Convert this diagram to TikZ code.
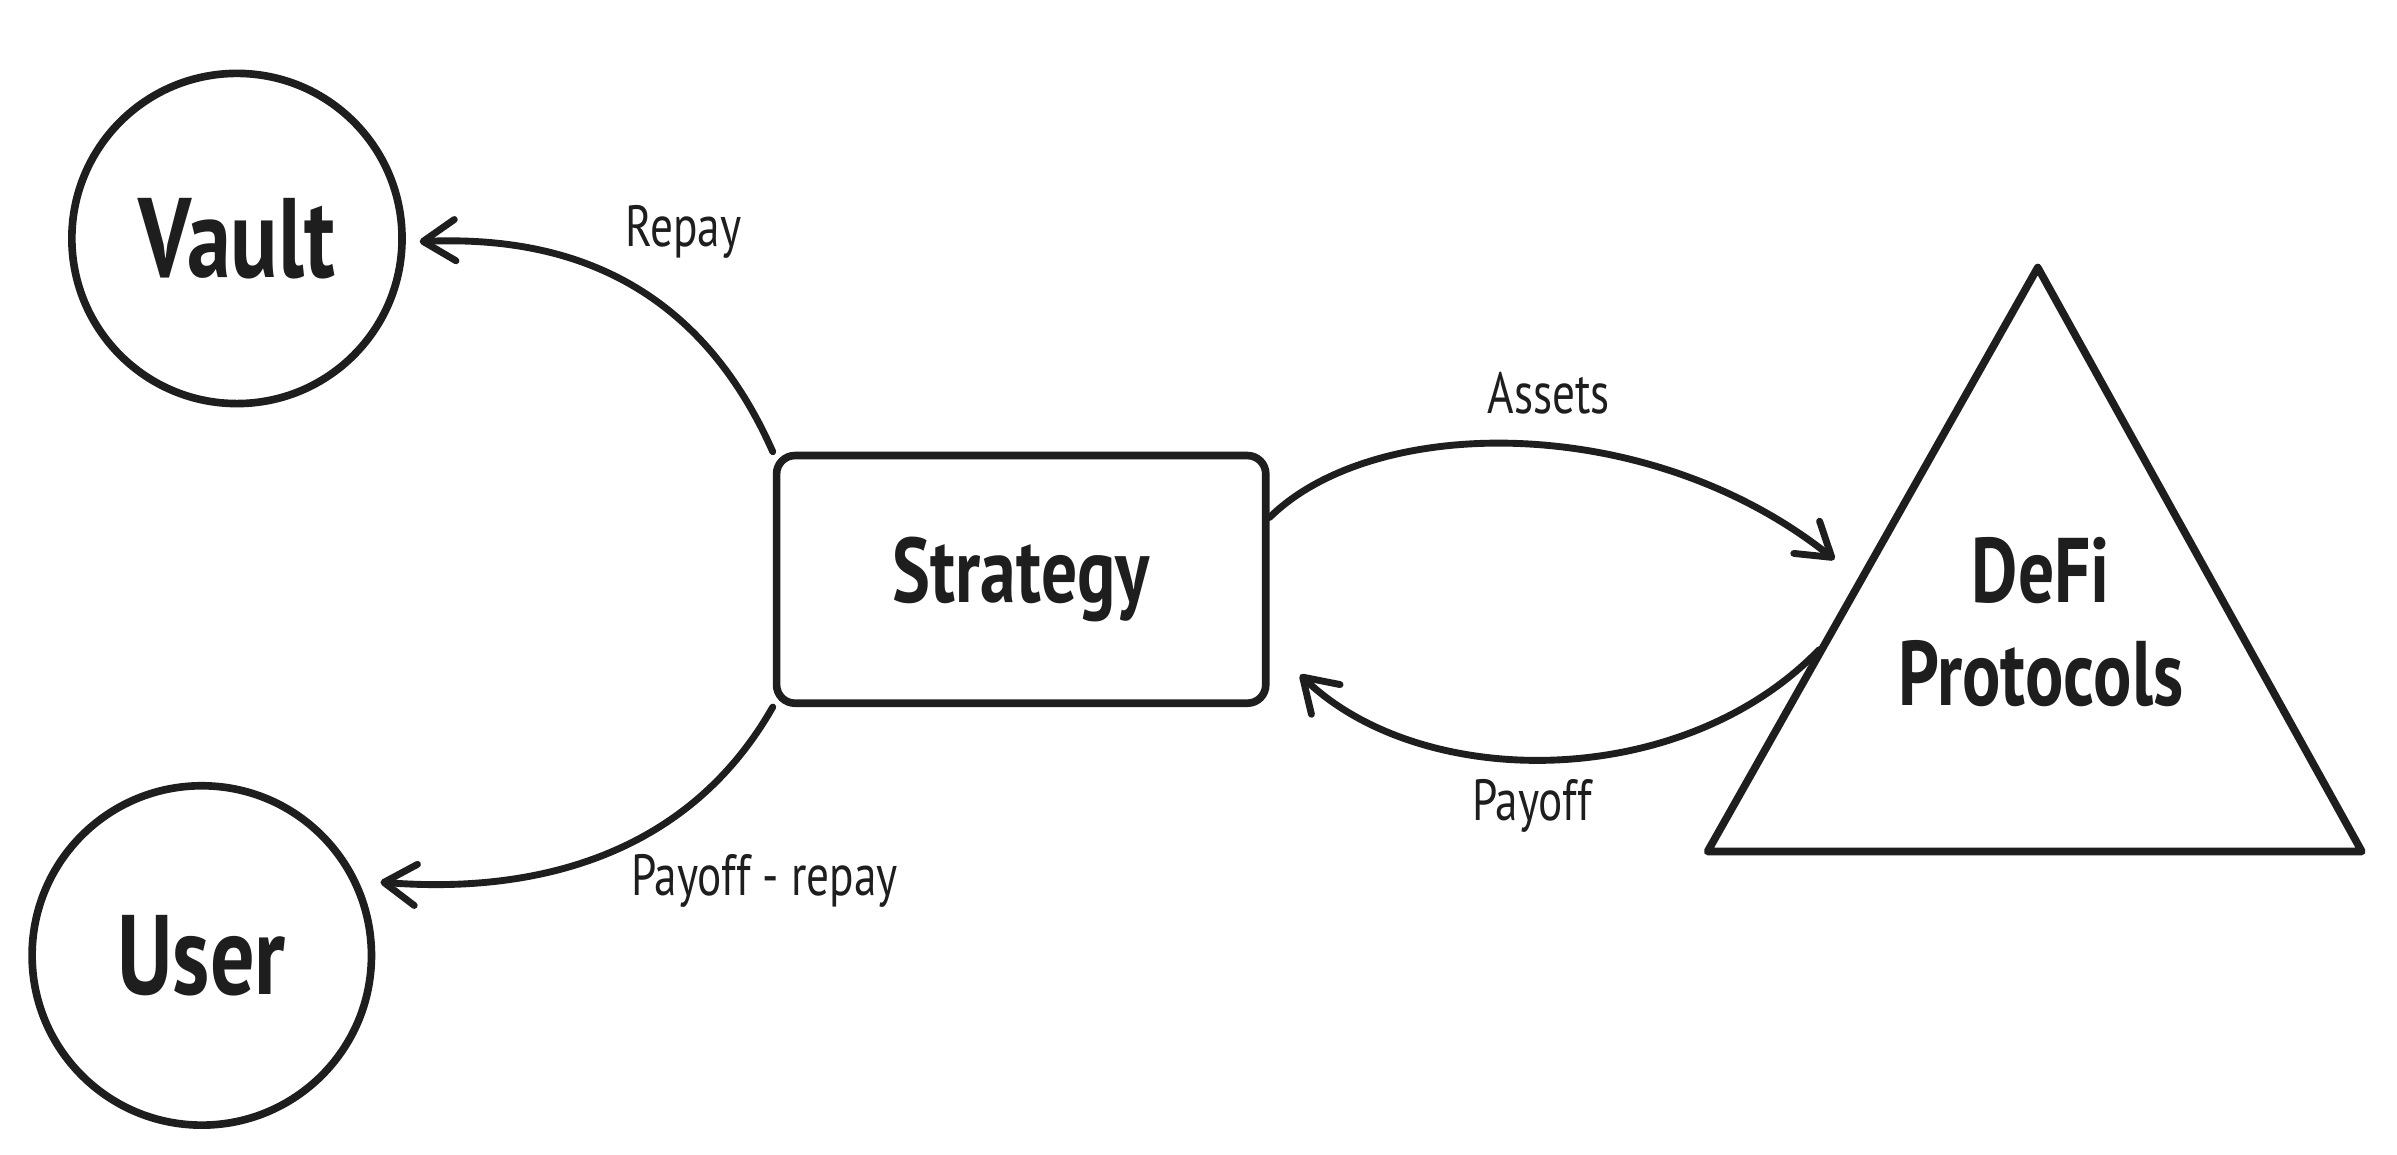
\documentclass[tikz,border=0pt]{standalone}
\usepackage{fontspec}
\setmainfont{PT Sans}[FakeStretch=0.78]
\usetikzlibrary{arrows.meta}
\definecolor{ink}{HTML}{1E1E1E}
\begin{document}
\begin{tikzpicture}[x=1pt,y=-1pt,
  every node/.style={text=ink},
  shapeline/.style={draw=ink, line width=5pt},
  conn/.style={draw=ink, line width=4.5pt, line cap=round,
    -{Straight Barb[length=21pt,width=27pt,round]}},
  bigtxt/.style={font=\bfseries\fontsize{74}{82}\selectfont},
  midtxt/.style={font=\bfseries\fontsize{60}{67}\selectfont},
  lbl/.style={font=\fontsize{38}{44}\selectfont},
]
\useasboundingbox[fill=white] (0,0) rectangle (1568,755.5);
% shapes
\node[shapeline, circle, minimum size=216pt, inner sep=0pt, bigtxt] (vault) at (155,156) {Vault};
\node[shapeline, circle, minimum size=222pt, inner sep=0pt, bigtxt] (user) at (132,625) {User};
\node[shapeline, rounded corners=12pt, minimum width=320pt, minimum height=162pt, midtxt] (strategy) at (668,379) {Strategy};
\draw[shapeline, line join=round] (1333,175) coordinate (apex) -- (1545,557) coordinate (br) -- (1117,557) coordinate (bl) -- cycle;
\node[midtxt, align=center] (defi) at (1335,407) {DeFi\\Protocols};
\coordinate (assetsin) at (1200,366);
\coordinate (payoffout) at (1190,425);
% connectors
\draw[conn] (strategy.north west) .. controls (450,170) and (350,155) .. ([shift={(9,2)}]vault.east);
\draw[conn] (strategy.south west) .. controls (450,560) and (350,585) .. ([xshift=14pt]user.25);
\draw[conn] (strategy.14) .. controls (900,270) and (1080,270) .. (assetsin);
\draw[conn] (payoffout) .. controls (1100,518) and (930,518) .. ([xshift=20pt]strategy.-21);
% labels
\node[lbl] (repay) at (447,152) {Repay};
\node[lbl] (assets) at (1013,257) {Assets};
\node[lbl] (payoff) at (1002,527) {Payoff};
\node[lbl] (payrep) at (500,576) {Payoff - repay};
\end{tikzpicture}
\end{document}
